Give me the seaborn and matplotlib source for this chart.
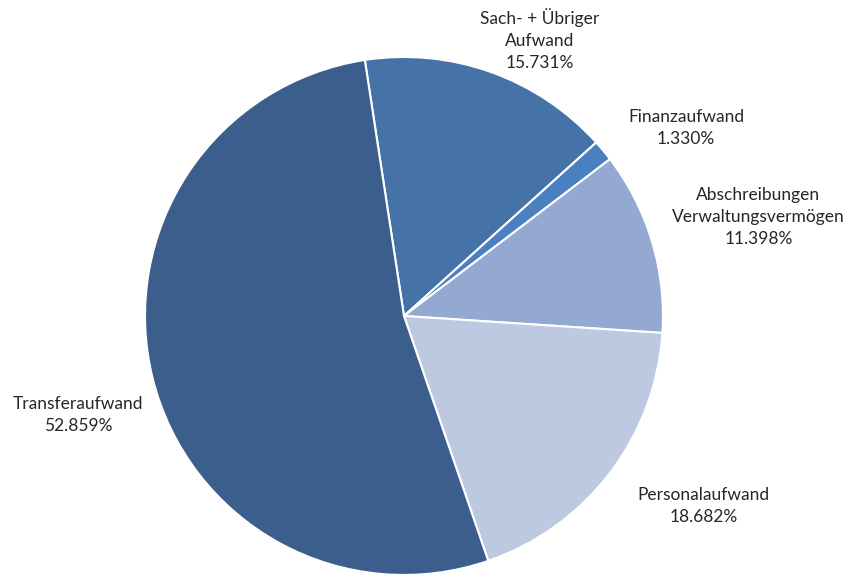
import numpy as np
import seaborn as sns
import matplotlib.pyplot as plt

# date (procente din grafic)
categorii = ["Sach- + Übriger\nAufwand", "Finanzaufwand",
             "Abschreibungen\nVerwaltungsvermögen", "Personalaufwand",
             "Transferaufwand"]
procente = [15.731, 1.330, 11.398, 18.682, 52.859]
culori = ["#4573A8", "#4A80C0", "#94A9D1", "#BDC9E1", "#3B5E8C"]

# pozitia etichetelor (in unitati de raza, centrul textului)
poz_etichete = [(0.525, 1.068), (1.089, 0.726), (1.369, 0.382),
                (1.158, -0.734), (-1.259, -0.382)]

sns.set_theme(style="white")
plt.rcParams['font.family'] = ['Lato', 'DejaVu Sans']

fig = plt.figure(figsize=(8.45, 5.76), dpi=100)
ax = fig.add_axes([0, 0, 1, 1])

# primul sector incepe la ~8.7 grade stanga de verticala, in sens orar
ax.pie(procente, colors=culori, startangle=98.7, counterclock=False,
       radius=1.0, wedgeprops={'edgecolor': 'white', 'linewidth': 1.5})

for nume, val, (x, y) in zip(categorii, procente, poz_etichete):
    ax.text(x, y, f"{nume}\n{val:.3f}%", ha='center', va='center',
            fontsize=12.5, color='#262626', linespacing=1.45)

ax.set_xlim(-1.560, 1.703)
ax.set_ylim(-1.004, 1.220)
ax.set_aspect('auto')
ax.axis('off')

fig.savefig("out.png", dpi=100, facecolor='white')
